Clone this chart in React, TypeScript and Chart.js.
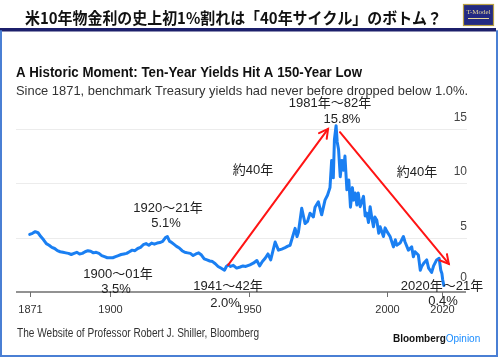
import React, { useEffect, useRef } from 'react';
import { Chart, registerables } from 'chart.js';

Chart.register(...registerables);

// ---- data ----
const years = [
  1871, 1872, 1873, 1874, 1875, 1876, 1877, 1878, 1879, 1880,
  1881, 1882, 1883, 1884, 1885, 1886, 1887, 1888, 1889, 1890,
  1891, 1892, 1893, 1894, 1895, 1896, 1897, 1898, 1899, 1900,
  1901, 1902, 1903, 1904, 1905, 1906, 1907, 1908, 1909, 1910,
  1911, 1912, 1913, 1914, 1915, 1916, 1917, 1918, 1919, 1920,
  1920.7, 1921.5, 1922, 1923, 1924, 1925, 1926, 1927, 1928, 1929,
  1930, 1931, 1932, 1933, 1934, 1935, 1936, 1937, 1938, 1939,
  1940, 1941.3, 1942, 1942.7, 1943.5, 1944.5, 1945.7, 1947, 1948, 1949,
  1950.5, 1951.7, 1953, 1954, 1955, 1956, 1957, 1958, 1959.6, 1960.8,
  1962, 1963, 1964, 1965, 1966.8, 1967.5, 1968, 1969.2, 1970.4, 1971.3,
  1972.2, 1973.4, 1974, 1975.2, 1976.4, 1977.6, 1978.5, 1979.4, 1980, 1980.6,
  1981, 1981.6, 1982, 1982.5, 1983.1, 1983.7, 1984.3, 1984.8, 1985.5, 1986.2,
  1986.8, 1987.5, 1987.9, 1988.5, 1989.1, 1989.6, 1990.3, 1991.5, 1992.1, 1992.7,
  1993.3, 1993.9, 1994.5, 1995.1, 1995.6, 1996.3, 1997, 1997.5, 1998.7, 1999.3,
  2000, 2001.1, 2002.3, 2003, 2003.5, 2004.7, 2005.9, 2006.5, 2007.7, 2008.9,
  2009.5, 2010.1, 2011.3, 2012, 2012.5, 2013.4, 2014.3, 2015, 2016.1, 2016.8,
  2017.9, 2018.8, 2019.4, 2019.8, 2020.1, 2020.5,
];
const yields = [
  5.3, 5.4, 5.55, 5.45, 5.1, 4.8, 4.45, 4.3, 4.1, 4.0,
  3.8, 3.7, 3.65, 3.6, 3.55, 3.45, 3.55, 3.65, 3.5, 3.55,
  3.7, 3.8, 3.75, 3.6, 3.65, 3.55, 3.35, 3.25, 3.15, 3.15,
  3.15, 3.25, 3.35, 3.45, 3.5, 3.55, 3.7, 3.85, 3.8, 4.0,
  4.1, 4.35, 4.45, 4.3, 4.5, 4.4, 4.5, 4.55, 4.65, 5.0,
  5.1, 4.65, 4.6, 4.4, 4.2, 4.05, 3.8, 3.65, 3.6, 3.55,
  3.35, 3.5, 3.6, 3.4, 3.05, 2.95, 2.85, 2.8, 2.6, 2.35,
  2.2, 2.0, 2.35, 2.5, 2.35, 2.45, 2.2, 2.3, 2.4, 2.35,
  2.5, 2.65, 2.9, 2.4, 2.8, 3.1, 3.5, 2.95, 4.6, 3.85,
  3.95, 4.05, 4.2, 4.3, 5.85, 5.1, 5.5, 7.7, 6.3, 6.5,
  7.25, 6.9, 7.8, 8.3, 7.1, 8.45, 8.9, 9.6, 12.1, 10.5,
  14.0, 15.3, 13.8, 13.1, 10.6, 12.1, 11.2, 12.5, 9.4, 10.3,
  7.8, 9.6, 8.45, 9.1, 8.0, 9.1, 7.85, 8.8, 7.0, 7.25,
  6.4, 7.85, 6.8, 6.0, 6.9, 6.6, 5.4, 6.0, 5.1, 5.9,
  5.55, 5.1, 4.15, 4.8, 4.3, 4.5, 5.1, 4.6, 3.85, 4.15,
  3.25, 3.7, 3.4, 2.0, 2.35, 2.7, 2.95, 2.2, 1.8, 2.4,
  2.95, 3.1, 2.0, 1.7, 1.1, 0.6,
];
const xTickYears = [1871, 1900, 1950, 2000, 2020];
const yTickValues = [0, 5, 10, 15];
const yTickLabels = ['0', '5', '10', '15'];

const TITLE_JA = '米10年物金利の史上初1%割れは「40年サイクル」のボトム？';
const TITLE = 'A Historic Moment: Ten-Year Yields Hit A 150-Year Low';
const SUBTITLE = 'Since 1871, benchmark Treasury yields had never before dropped below 1.0%.';
const SOURCE = 'The Website of Professor Robert J. Shiller, Bloomberg';

// annotation texts: [text, x px, baseline px]
const notes: [string, number, number][] = [
  ['1981年～82年', 330, 107],
  ['15.8%', 342, 123],
  ['約40年', 253, 174],
  ['約40年', 417, 176],
  ['1920～21年', 168, 212],
  ['5.1%', 166, 227],
  ['1900～01年', 118, 278],
  ['3.5%', 116, 293],
  ['1941～42年', 228, 290],
  ['2.0%', 225, 307],
  ['2020年～21年', 442, 290],
  ['0.4%', 443, 305],
];
// arrows in data coordinates: [fromYear, fromVal, toYear, toVal]
const arrows: [number, number, number, number][] = [
  [1942.6, 2.48, 1978.7, 15.0],
  [1983.0, 14.7, 2022.3, 2.58],
];

function fitText(ctx: CanvasRenderingContext2D, text: string, x: number, y: number, width: number) {
  const w = ctx.measureText(text).width;
  ctx.save();
  ctx.translate(x, y);
  ctx.scale(width / w, 1);
  ctx.textAlign = 'left';
  ctx.fillText(text, 0, 0);
  ctx.restore();
}

const decor = {
  id: 'decor',
  beforeDraw(chart: any) {
    const ctx: CanvasRenderingContext2D = chart.ctx;
    ctx.save();
    ctx.fillStyle = '#ffffff';
    ctx.fillRect(0, 0, chart.width, chart.height);
    const { left, right } = chart.chartArea;
    const ys = chart.scales.y;
    ctx.strokeStyle = '#ececec';
    ctx.lineWidth = 1;
    yTickValues.forEach((v) => {
      if (v === 0) return;
      const y = Math.round(ys.getPixelForValue(v)) + 0.5;
      ctx.beginPath();
      ctx.moveTo(left, y);
      ctx.lineTo(right + 1, y);
      ctx.stroke();
    });
    ctx.restore();
  },
  afterDatasetsDraw(chart: any) {
    const ctx: CanvasRenderingContext2D = chart.ctx;
    const xs = chart.scales.x;
    const ys = chart.scales.y;
    const { left, right, bottom } = chart.chartArea;
    ctx.save();

    // x axis line + ticks
    ctx.strokeStyle = '#6e6e6e';
    ctx.lineWidth = 1.5;
    ctx.beginPath();
    ctx.moveTo(left, bottom);
    ctx.lineTo(right, bottom);
    ctx.stroke();
    ctx.lineWidth = 1;
    ctx.font = '11px "Liberation Sans", Arial, sans-serif';
    ctx.fillStyle = '#333';
    ctx.textAlign = 'center';
    ctx.textBaseline = 'alphabetic';
    xTickYears.forEach((yr) => {
      const x = Math.round(xs.getPixelForValue(yr)) + 0.5;
      ctx.beginPath();
      ctx.moveTo(x, bottom);
      ctx.lineTo(x, bottom + 5);
      ctx.stroke();
      ctx.fillText(String(yr), x, bottom + 21);
    });

    // y labels (right, above gridlines)
    ctx.font = '12px "Liberation Sans", Arial, sans-serif';
    ctx.fillStyle = '#444';
    ctx.textAlign = 'right';
    yTickValues.forEach((v, i) => {
      const y = ys.getPixelForValue(v);
      ctx.fillText(yTickLabels[i], right + 1, y - (v === 0 ? 11 : 8));
    });

    // arrows
    ctx.strokeStyle = '#ff1414';
    ctx.lineWidth = 2;
    ctx.lineCap = 'round';
    arrows.forEach(([x0, v0, x1, v1]) => {
      const ax = xs.getPixelForValue(x0), ay = ys.getPixelForValue(v0);
      const bx = xs.getPixelForValue(x1), by = ys.getPixelForValue(v1);
      ctx.beginPath();
      ctx.moveTo(ax, ay);
      ctx.lineTo(bx, by);
      ctx.stroke();
      const ang = Math.atan2(by - ay, bx - ax);
      const L = 10;
      ctx.beginPath();
      ctx.moveTo(bx - L * Math.cos(ang - 0.5), by - L * Math.sin(ang - 0.5));
      ctx.lineTo(bx, by);
      ctx.lineTo(bx - L * Math.cos(ang + 0.5), by - L * Math.sin(ang + 0.5));
      ctx.stroke();
    });

    // annotations
    ctx.font = '13px "Liberation Sans", "Noto Sans CJK JP", sans-serif';
    ctx.fillStyle = '#222';
    ctx.textAlign = 'center';
    notes.forEach(([t, x, y]) => ctx.fillText(t, x, y));

    // header
    ctx.fillStyle = '#111';
    ctx.font = 'bold 16px "Noto Sans CJK JP", sans-serif';
    fitText(ctx, TITLE_JA, 25, 24, 417);
    ctx.fillStyle = '#1c1f6b';
    ctx.fillRect(0, 28, 496, 3.5);

    // logo
    ctx.fillStyle = '#232a82';
    ctx.fillRect(463, 4, 31, 22);
    ctx.strokeStyle = '#b9a044';
    ctx.lineWidth = 1.2;
    ctx.strokeRect(463.5, 4.5, 30, 21);
    ctx.fillStyle = '#e6d89a';
    ctx.font = '7px "Liberation Serif", serif';
    ctx.textAlign = 'center';
    ctx.fillText('T-Model', 478.5, 14);
    ctx.fillRect(468, 18, 21, 1);

    // frame
    ctx.strokeStyle = '#4a7fd4';
    ctx.lineWidth = 2;
    ctx.beginPath();
    ctx.moveTo(1, 31);
    ctx.lineTo(1, 356);
    ctx.lineTo(497, 356);
    ctx.lineTo(497, 31);
    ctx.stroke();

    // chart title / subtitle
    ctx.fillStyle = '#111';
    ctx.font = 'bold 14px "Liberation Sans", Arial, sans-serif';
    fitText(ctx, TITLE, 16, 77, 346);
    ctx.fillStyle = '#333';
    ctx.font = '13px "Liberation Sans", Arial, sans-serif';
    fitText(ctx, SUBTITLE, 16, 95, 452);

    // footer
    ctx.fillStyle = '#333';
    ctx.font = '12px "Liberation Sans", Arial, sans-serif';
    fitText(ctx, SOURCE, 17, 337, 242);
    ctx.font = 'bold 10px "Liberation Sans", Arial, sans-serif';
    ctx.textAlign = 'left';
    const bw = ctx.measureText('Bloomberg').width;
    ctx.fillStyle = '#111';
    ctx.fillText('Bloomberg', 393, 342);
    ctx.fillStyle = '#1a8cff';
    ctx.font = '10px "Liberation Sans", Arial, sans-serif';
    ctx.fillText('Opinion', 393 + bw, 342);

    ctx.restore();
  },
};

export default function App() {
  const ref = useRef<HTMLCanvasElement>(null);
  useEffect(() => {
    const chart = new Chart(ref.current as HTMLCanvasElement, {
      type: 'line',
      data: {
        datasets: [
          {
            data: years.map((x, i) => ({ x, y: yields[i] })),
            borderColor: '#1a7ff2',
            borderWidth: 3,
            pointRadius: 0,
            tension: 0,
            borderJoinStyle: 'round',
            borderCapStyle: 'round',
          },
        ],
      },
      options: {
        responsive: false,
        animation: false,
        devicePixelRatio: 1,
        layout: { padding: { left: 16, right: 32, top: 112.6, bottom: 65 } },
        plugins: { legend: { display: false }, tooltip: { enabled: false } },
        scales: {
          x: { type: 'linear', display: false, min: 1866.05, max: 2028.5 },
          y: { display: false, min: 0, max: 16.5 },
        },
      },
      plugins: [decor],
    } as any);
    return () => chart.destroy();
  }, []);
  return (
    <div style={{ position: 'absolute', left: 0, top: 0, width: 498, height: 357, background: '#fff' }}>
      <canvas ref={ref} width={498} height={357} style={{ display: 'block' }} />
    </div>
  );
}
